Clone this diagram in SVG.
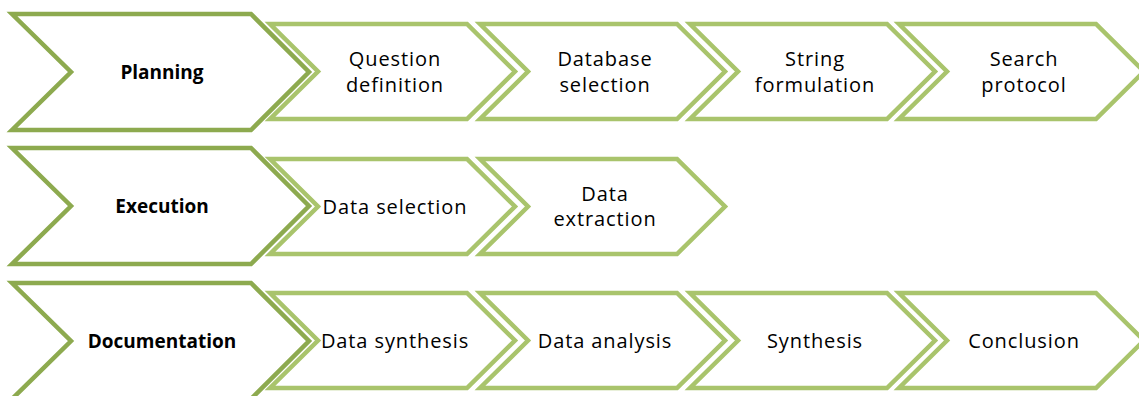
<svg xmlns="http://www.w3.org/2000/svg" width="1139" height="396" viewBox="0 0 1139 396">
<defs>
<style>
.big{fill:#fff;stroke:#8DAA4F;stroke-width:4.5;stroke-linejoin:miter}
.sm{fill:#fff;stroke:#A9C46C;stroke-width:4.5;stroke-linejoin:miter}
.bt{font-family:"Open Sans","Liberation Sans",sans-serif;font-weight:bold;font-size:19px;fill:#000;text-anchor:middle}
.t{font-family:"Open Sans","Liberation Sans",sans-serif;font-size:20px;fill:#000;text-anchor:middle;letter-spacing:0.9px}
</style>
<polygon id="B" points="0,-58 239,-58 297,0 239,58 0,58 59,0"/>
<polygon id="S" points="0,-47.5 197,-47.5 245,0 197,47.5 0,47.5 48,0"/>
</defs>
<rect width="1139" height="396" fill="#fff"/>
<g id="connectors"></g>
<!-- Row 1 -->
<g id="planning"><use href="#B" class="big" x="12" y="72"/><text class="bt" x="162" y="79">Planning</text></g>
<g id="question-definition"><use href="#S" class="sm" x="270" y="71.5"/><text class="t" x="395" y="66">Question</text><text class="t" x="395" y="92">definition</text></g>
<g id="database-selection"><use href="#S" class="sm" x="480" y="71.5"/><text class="t" x="605" y="66">Database</text><text class="t" x="605" y="92">selection</text></g>
<g id="string-formulation"><use href="#S" class="sm" x="690" y="71.5"/><text class="t" x="815" y="66">String</text><text class="t" x="815" y="92">formulation</text></g>
<g id="search-protocol"><use href="#S" class="sm" x="899" y="71.5"/><text class="t" x="1024" y="66">Search</text><text class="t" x="1024" y="92">protocol</text></g>
<!-- Row 2 -->
<g id="execution"><use href="#B" class="big" x="12" y="206"/><text class="bt" x="162" y="213">Execution</text></g>
<g id="data-selection"><use href="#S" class="sm" x="270" y="206.5"/><text class="t" x="395" y="214">Data selection</text></g>
<g id="data-extraction"><use href="#S" class="sm" x="480" y="206.5"/><text class="t" x="605" y="201">Data</text><text class="t" x="605" y="226">extraction</text></g>
<!-- Row 3 -->
<g id="documentation"><use href="#B" class="big" x="12" y="341"/><text class="bt" x="162" y="348">Documentation</text></g>
<g id="data-synthesis"><use href="#S" class="sm" x="270" y="340.5"/><text class="t" x="395" y="348">Data synthesis</text></g>
<g id="data-analysis"><use href="#S" class="sm" x="480" y="340.5"/><text class="t" x="605" y="348">Data analysis</text></g>
<g id="synthesis"><use href="#S" class="sm" x="690" y="340.5"/><text class="t" x="815" y="348">Synthesis</text></g>
<g id="conclusion"><use href="#S" class="sm" x="899" y="340.5"/><text class="t" x="1024" y="348">Conclusion</text></g>
</svg>
